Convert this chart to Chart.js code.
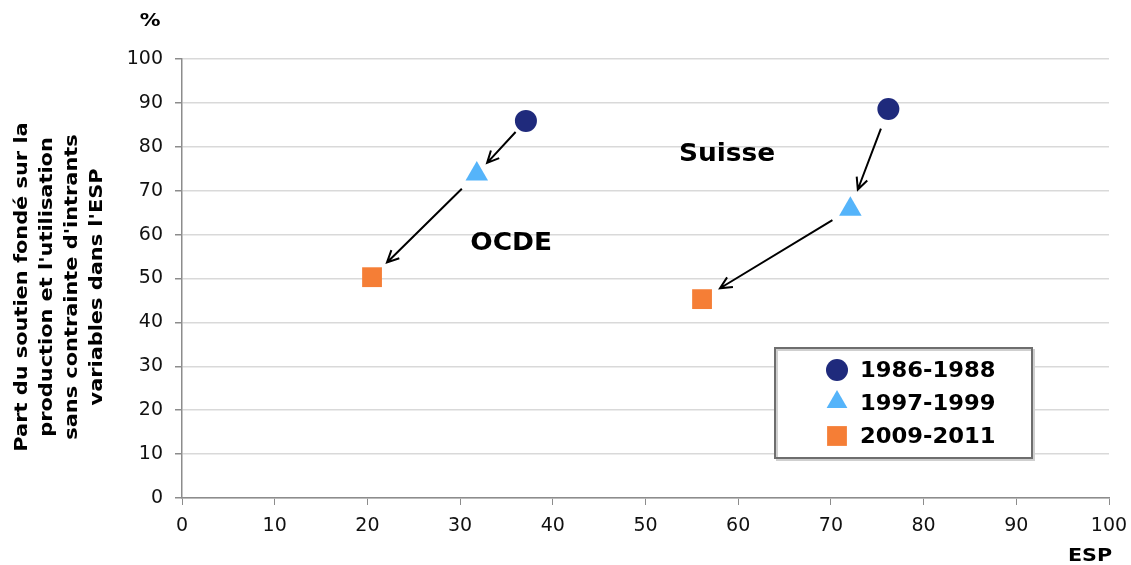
<!DOCTYPE html>
<html>
<head>
<meta charset="utf-8">
<script src="https://cdn.jsdelivr.net/npm/chart.js"></script>
<style>
  html, body { margin: 0; padding: 0; background: #fff; }
  #wrap { width: 1131px; height: 565px; position: relative; }
</style>
</head>
<body>
<div id="wrap"><canvas id="myChart"></canvas></div>
<script>
// groups (one point per group in every period)
const groups = ['OCDE', 'Suisse'];
const periods = ['1986-1988', '1997-1999', '2009-2011'];

// ESP (x) and share (y), in order OCDE, Suisse
const esp8688 = [37.1, 76.2];
const part8688 = [85.9, 88.6];
const esp9799 = [31.8, 72.1];
const part9799 = [73.8, 65.8];
const esp0911 = [20.5, 56.1];
const part0911 = [50.3, 45.3];

// group label positions in data units
const labelX = [35.5, 58.8];
const labelY = [57.9, 78.1];

const yTitle = ["Part du soutien fondé sur la", "production et l'utilisation", "sans contrainte d'intrants", "variables dans l'ESP"];

const colors = ['#1f2a7c', '#55b4fa', '#f57e36'];
const styles = ['circle', 'triangle', 'rect'];
const radii = [11, 13, 14];

function pts(xs, ys) {
  return xs.map((x, i) => ({ x: x, y: ys[i] }));
}

const seriesX = [esp8688, esp9799, esp0911];
const seriesY = [part8688, part9799, part0911];

const data = {
  datasets: periods.map((p, i) => ({
    label: p,
    data: pts(seriesX[i], seriesY[i]),
    pointStyle: styles[i],
    pointRadius: radii[i],
    pointHoverRadius: radii[i],
    backgroundColor: colors[i],
    borderColor: colors[i],
    borderWidth: 0
  }))
};

const FONT = '"DejaVu Sans", Verdana, sans-serif';

// text a bit wider than the font, like the original
function wideText(ctx, text, x, y, sx) {
  ctx.save();
  ctx.translate(x, y);
  ctx.scale(sx, 1);
  ctx.fillText(text, 0, 0);
  ctx.restore();
}

function arrow(ctx, x1, y1, x2, y2) {
  const dx = x2 - x1, dy = y2 - y1;
  const len = Math.hypot(dx, dy);
  const g = Math.min(21, len * 0.21);
  const ux = dx / len, uy = dy / len;
  const sx = x1 + ux * g, sy = y1 + uy * g;
  const ex = x2 - ux * g, ey = y2 - uy * g;
  const a = Math.atan2(dy, dx);
  const h = 13, sp = Math.PI / 7;
  ctx.beginPath();
  ctx.moveTo(sx, sy);
  ctx.lineTo(ex, ey);
  ctx.moveTo(ex - h * Math.cos(a - sp), ey - h * Math.sin(a - sp));
  ctx.lineTo(ex, ey);
  ctx.lineTo(ex - h * Math.cos(a + sp), ey - h * Math.sin(a + sp));
  ctx.stroke();
}

const extras = {
  id: 'extras',
  afterDatasetsDraw(chart) {
    const ctx = chart.ctx;
    const xs = chart.scales.x, ys = chart.scales.y;
    ctx.save();
    ctx.strokeStyle = '#000';
    ctx.lineWidth = 2;
    ctx.lineCap = 'butt';
    groups.forEach((g, gi) => {
      for (let i = 0; i < periods.length - 1; i++) {
        arrow(ctx,
          xs.getPixelForValue(seriesX[i][gi]), ys.getPixelForValue(seriesY[i][gi]),
          xs.getPixelForValue(seriesX[i + 1][gi]), ys.getPixelForValue(seriesY[i + 1][gi]));
      }
      ctx.fillStyle = '#000';
      ctx.font = 'bold 24px ' + FONT;
      ctx.textAlign = 'center';
      ctx.textBaseline = 'middle';
      wideText(ctx, g, xs.getPixelForValue(labelX[gi]), ys.getPixelForValue(labelY[gi]), 1.1);
    });
    ctx.restore();
  },
  afterDraw(chart) {
    const ctx = chart.ctx;
    ctx.save();
    ctx.fillStyle = '#000';
    // % and ESP
    ctx.font = 'bold 18px ' + FONT;
    ctx.textAlign = 'center';
    ctx.textBaseline = 'middle';
    wideText(ctx, '%', 150, 21, 1.15);
    wideText(ctx, 'ESP', 1090, 556, 1.15);
    // y title
    ctx.font = 'bold 18px ' + FONT;
    ctx.translate(60, 287);
    ctx.rotate(-Math.PI / 2);
    yTitle.forEach((t, i) => wideText(ctx, t, 0, (i - 1.5) * 25, 1.16));
    ctx.restore();

    // legend box
    ctx.save();
    ctx.fillStyle = '#fff';
    ctx.fillRect(775, 348, 257, 110);
    ctx.strokeStyle = '#cfcfcf';
    ctx.lineWidth = 2;
    ctx.strokeRect(777, 350, 257, 110);
    ctx.strokeStyle = '#6e6e6e';
    ctx.strokeRect(775, 348, 257, 110);
    const legR = [11, 12, 14];
    const legY = [370, 402, 436];
    periods.forEach((p, i) => {
      const el = { pointStyle: styles[i], radius: legR[i], rotation: 0 };
      ctx.fillStyle = colors[i];
      ctx.strokeStyle = colors[i];
      ctx.lineWidth = 0;
      if (Chart.helpers && Chart.helpers.drawPoint) {
        Chart.helpers.drawPoint(ctx, el, 837, legY[i]);
      }
      ctx.fillStyle = '#000';
      ctx.font = 'bold 22px ' + FONT;
      ctx.textAlign = 'left';
      ctx.textBaseline = 'middle';
      wideText(ctx, p, 860, 371 + i * 33, 1.03);
    });
    ctx.restore();
  }
};

const config = {
  type: 'scatter',
  data: data,
  options: {
    responsive: true,
    maintainAspectRatio: false,
    animation: false,
    layout: { padding: { top: 59, right: 22, bottom: 0, left: 0 } },
    plugins: { legend: { display: false }, tooltip: { enabled: false } },
    scales: {
      x: {
        min: 0, max: 100,
        ticks: { stepSize: 10, color: '#111', font: { family: FONT, size: 19 }, padding: 10, maxRotation: 0 },
        grid: { drawOnChartArea: false, tickLength: 7, tickColor: '#8c8c8c' },
        border: { color: '#8c8c8c', width: 1.5 },
        afterFit(s) { s.height = 67; s.paddingLeft = 0; s.paddingRight = 0; }
      },
      y: {
        min: 0, max: 100,
        ticks: { stepSize: 10, color: '#111', font: { family: FONT, size: 19 }, padding: 12 },
        grid: { color: '#d9d9d9', lineWidth: 1.5, tickLength: 7, tickColor: '#8c8c8c' },
        border: { color: '#8c8c8c', width: 1.5 },
        afterFit(s) { s.width = 182; s.paddingTop = 0; s.paddingBottom = 0; }
      }
    }
  },
  plugins: [extras]
};

const myChart = new Chart(document.getElementById('myChart'), config);
</script>
</body>
</html>
